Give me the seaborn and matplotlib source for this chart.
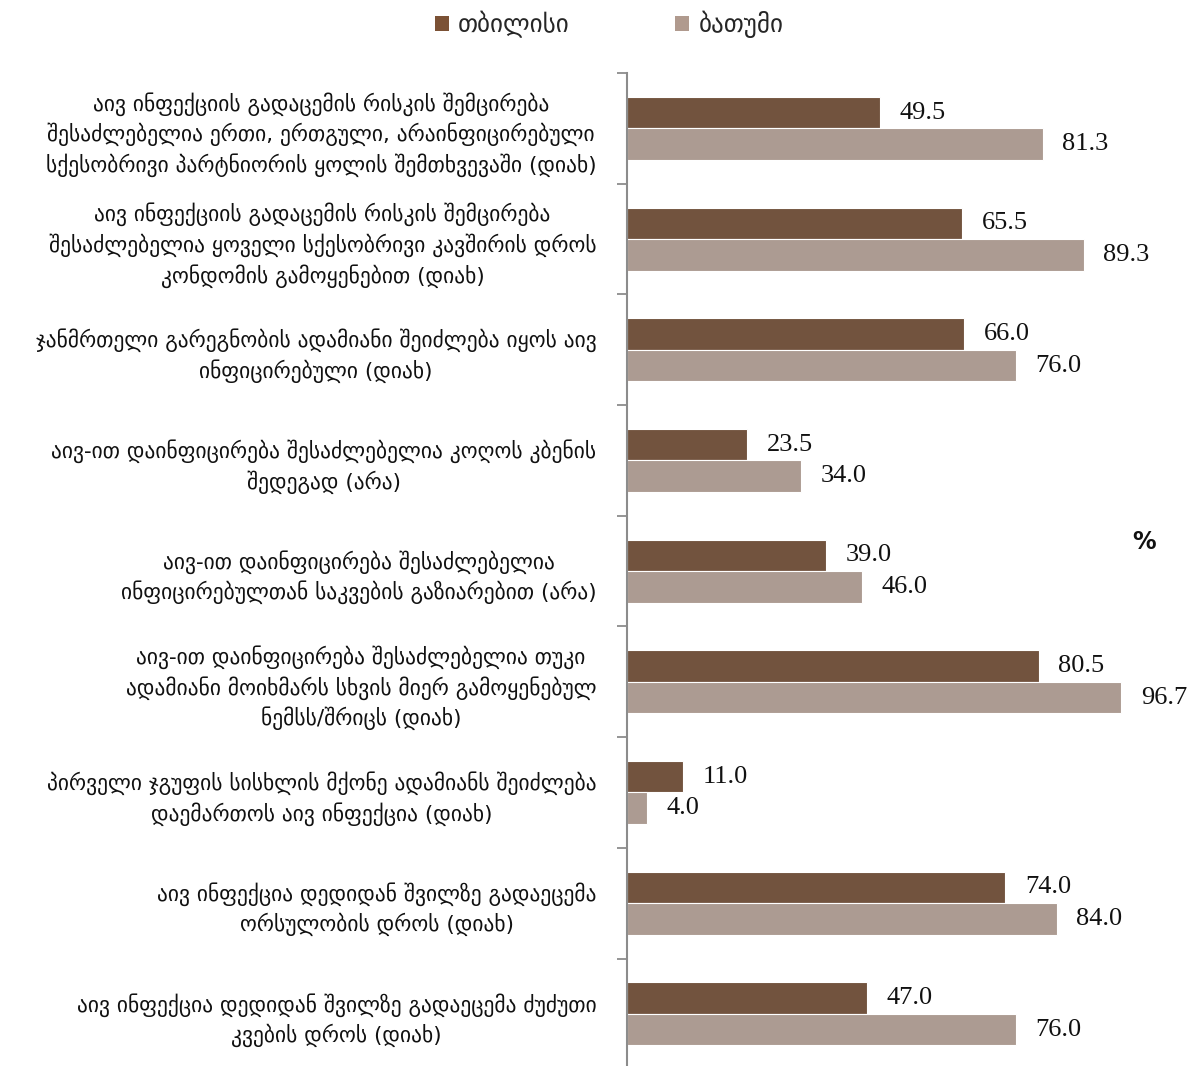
import numpy as np
import pandas as pd
import matplotlib
matplotlib.use("Agg")
import matplotlib.pyplot as plt
from matplotlib.patches import Patch
import seaborn as sns

# Survey items (HIV knowledge statements, correct answer in brackets)
categories = [
    "აივ ინფექციის გადაცემის რისკის შემცირება\nშესაძლებელია ერთი, ერთგული, არაინფიცირებული\nსქესობრივი პარტნიორის ყოლის შემთხვევაში (დიახ)",
    "აივ ინფექციის გადაცემის რისკის შემცირება\nშესაძლებელია ყოველი სქესობრივი კავშირის დროს\nკონდომის გამოყენებით (დიახ)",
    "ჯანმრთელი გარეგნობის ადამიანი შეიძლება იყოს აივ\nინფიცირებული (დიახ)",
    "აივ-ით დაინფიცირება შესაძლებელია კოღოს კბენის\nშედეგად (არა)",
    "აივ-ით დაინფიცირება შესაძლებელია\nინფიცირებულთან საკვების გაზიარებით (არა)",
    "აივ-ით დაინფიცირება შესაძლებელია თუკი\nადამიანი მოიხმარს სხვის მიერ გამოყენებულ\nნემსს/შრიცს (დიახ)",
    "პირველი ჯგუფის სისხლის მქონე ადამიანს შეიძლება\nდაემართოს აივ ინფექცია (დიახ)",
    "აივ ინფექცია დედიდან შვილზე გადაეცემა\nორსულობის დროს (დიახ)",
    "აივ ინფექცია დედიდან შვილზე გადაეცემა ძუძუთი\nკვების დროს (დიახ)",
]
series_names = ["თბილისი", "ბათუმი"]
tbilisi = [49.5, 65.5, 66.0, 23.5, 39.0, 80.5, 11.0, 74.0, 47.0]
batumi = [81.3, 89.3, 76.0, 34.0, 46.0, 96.7, 4.0, 84.0, 76.0]

colors = ["#7B5135", "#B09A8E"]

df = pd.DataFrame({
    "item": categories * 2,
    "city": [series_names[0]] * len(categories) + [series_names[1]] * len(categories),
    "value": tbilisi + batumi,
})

sns.set_theme(style="white")
plt.rcParams["font.family"] = ["DejaVu Sans"]

fig = plt.figure(figsize=(11.92, 10.66), dpi=100)
ax = fig.add_axes([0.526, -0.003, 0.429, 0.9345])

sns.barplot(data=df, y="item", x="value", hue="city", orient="h",
            palette=colors, width=0.57, edgecolor="white", linewidth=0.8,
            legend=False, ax=ax)

ax.set_xlim(0, 100)
ax.set_ylim(len(categories) - 0.5, -0.5)
ax.set_xlabel("")
ax.set_ylabel("")
ax.set_xticks([])

# Category labels, centred lines, right-aligned block
ax.set_yticks(range(len(categories)))
ax.set_yticklabels(categories, fontsize=15.5, multialignment="center",
                   linespacing=1.38, color="#111111")
ax.tick_params(axis="y", which="major", left=True, length=0, pad=22)
ax.set_yticks(np.arange(-0.5, len(categories), 1.0), minor=True)
ax.tick_params(axis="y", which="minor", left=True, length=7, width=1.3,
               color="#8C8C8C", direction="out")

for side in ["top", "right", "bottom"]:
    ax.spines[side].set_visible(False)
ax.spines["left"].set_color("#8C8C8C")
ax.spines["left"].set_linewidth(1.5)

# Value labels
num_font = ["Liberation Serif", "DejaVu Serif"]
for container in ax.containers:
    ax.bar_label(container, fmt="%.1f", padding=14, fontsize=19,
                 family=num_font, color="#111111", clip_on=False)

fig.text(0.96, 0.492, "%", fontsize=17, fontweight="bold", ha="center", va="center",
         color="#111111")

handles = [Patch(facecolor=c, edgecolor="none") for c in colors]
fig.legend(handles, series_names, loc="center", bbox_to_anchor=(0.511, 0.977),
           ncol=2, frameon=False, fontsize=18, handlelength=0.56, handleheight=0.56,
           handletextpad=0.38, columnspacing=4.2)

fig.savefig("out.png", dpi=100, facecolor="white")
